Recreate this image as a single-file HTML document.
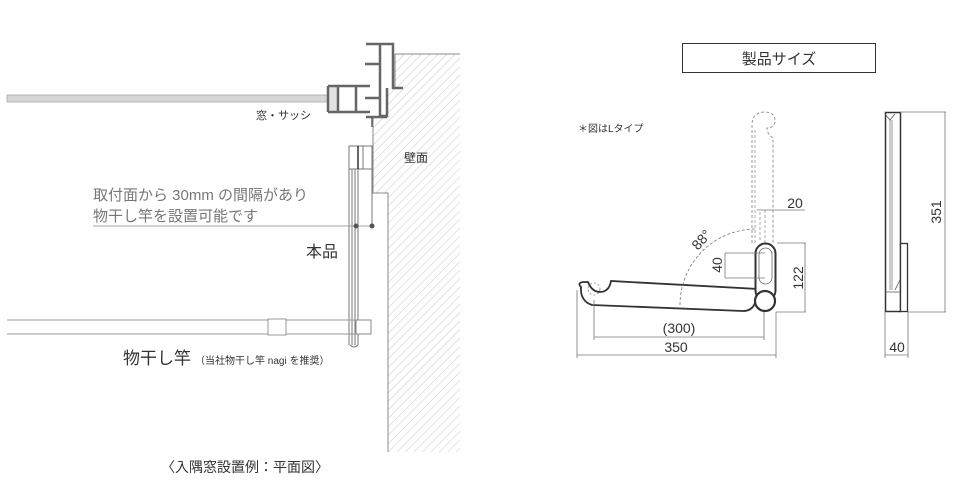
<!DOCTYPE html>
<html><head><meta charset="utf-8"><style>
html,body{margin:0;padding:0;background:#fff}
svg{display:block}
text{font-family:"Liberation Sans","Noto Sans CJK JP",sans-serif}
</style></head><body>
<svg width="960" height="493" viewBox="0 0 960 493" xmlns="http://www.w3.org/2000/svg">
<defs>
<pattern id="h" width="6" height="6" patternUnits="userSpaceOnUse" patternTransform="rotate(45)">
<line x1="0" y1="0" x2="0" y2="6" stroke="#bbb" stroke-width="0.8"/>
</pattern>
</defs>
<path d="M395,54 H460 V452 H388 V193 H373 V118 H387 V88 H395 Z" fill="url(#h)"/>
<path d="M395,54 H460 M395,54 V88 M373,118 V193 H388 V452" fill="none" stroke="#888" stroke-width="1"/>
<rect x="7" y="95" width="322" height="7" fill="#d6d6d6" stroke="#aaa" stroke-width="0.8"/>
<rect x="328" y="86" width="9" height="26" fill="#e2e2e2"/>
<g stroke="#666" stroke-width="2.5" fill="none">
<path d="M328,86 H370 M328,112 H370 M328,86 V112 M338,86 V112 M356,86 V112"/>
<path d="M366,44 H393 V88 H403 M380,44 V116 M387,88 V116 H380 M366,117 H387 M365,64 H380 M365,98 H380"/>
<path d="M372,117 V127" stroke-width="1.5"/>
</g>
<g stroke="#777" stroke-width="1" fill="#fff">
<rect x="349" y="146" width="23" height="23"/>
<line x1="358" y1="146" x2="358" y2="169" stroke="#333" stroke-width="1.5"/>
<line x1="363" y1="146" x2="363" y2="169"/>
<path d="M349,169 V345 M352,169 V345 M355,169 V345 M358,169 V345" fill="none"/>
<path d="M350,345 q4,4 8,0" fill="none"/>
<line x1="372" y1="169" x2="372" y2="226"/>
</g>
<line x1="93" y1="226" x2="372" y2="226" stroke="#888" stroke-width="0.8"/>
<circle cx="356" cy="226" r="2.5" fill="#555"/>
<circle cx="372" cy="226" r="2.5" fill="#555"/>
<g stroke="#999" stroke-width="1" fill="#fff">
<path d="M7,320 H356 M7,334 H356"/>
<rect x="268" y="319" width="18" height="16"/>
<rect x="356" y="320" width="15" height="14" stroke="#888"/>
</g>
<text x="256" y="119" font-size="11" fill="#333">窓・サッシ</text>
<text x="404" y="162" font-size="12" fill="#333">壁面</text>
<text x="93" y="200" font-size="15" fill="#777">取付面から 30mm の間隔があり</text>
<text x="93" y="221" font-size="15" fill="#777">物干し竿を設置可能です</text>
<text x="306" y="257" font-size="16" fill="#333">本品</text>
<text x="123" y="364" font-size="17" fill="#333">物干し竿<tspan font-size="10" dx="4">（当社物干し竿 nagi を推奨）</tspan></text>
<text x="245" y="472" font-size="14" fill="#333" text-anchor="middle">〈入隅窓設置例：平面図〉</text>
<rect x="682.5" y="43.5" width="193" height="29" fill="#fff" stroke="#333" stroke-width="1"/>
<text x="779" y="64" font-size="15" fill="#333" text-anchor="middle">製品サイズ</text>
<text x="578" y="132" font-size="10" fill="#333">＊図はLタイプ</text>
<path d="M752,243 V125 q0,-12 12,-13 q12,0 11,10 q-1,6 -8,6 q0,6 6,10 V243" fill="none" stroke="#999" stroke-width="1" stroke-dasharray="3,2"/>
<path d="M755,243 V130 M760,240 V210 M765,243 V210" stroke="#999" stroke-width="0.8" stroke-dasharray="3,2" fill="none"/>
<path d="M581,287 q-4,-4 2,-5 h5 q4,10 12,10 q9,0 11,-11 L758,289 L755,303 q-3,8 -12,8 L592,305 q-12,-4 -11,-18 Z" fill="#fff" stroke="#333" stroke-width="1.8"/>
<rect x="755.5" y="243.5" width="20" height="57" rx="10" fill="#fff" stroke="#333" stroke-width="2"/>
<rect x="759" y="248" width="13" height="36" rx="6.5" fill="none" stroke="#666" stroke-width="0.8"/>
<circle cx="765" cy="301" r="10" fill="#fff" stroke="#333" stroke-width="2.2"/>
<circle cx="594" cy="289" r="6" fill="none" stroke="#888" stroke-width="0.8" stroke-dasharray="2,2"/>
<g stroke="#777" stroke-width="0.8" fill="none">
<path d="M680,305 A76,76 0 0 1 756,229" stroke-dasharray="3,2"/>
<path d="M757,210 H805 M777,243 H806 M805,243 V312 M776,312 H806"/>
<path d="M725,253 H765 M725,278 H765 M725,253 V278"/>
<path d="M577,290 V358 M776,312 V358 M577,355 H776"/>
<path d="M594,300 V340 M764,312 V340 M594,337 H764"/>
</g>
<text x="795" y="208" font-size="14" fill="#333" text-anchor="middle">20</text>
<text transform="translate(803,278) rotate(-90)" font-size="14" fill="#333" text-anchor="middle">122</text>
<text transform="translate(722,265) rotate(-90)" font-size="14" fill="#333" text-anchor="middle">40</text>
<text transform="translate(705,243) rotate(-48)" font-size="14" fill="#333" text-anchor="middle">88°</text>
<text x="679" y="333" font-size="14" fill="#333" text-anchor="middle">(300)</text>
<text x="676" y="352" font-size="14" fill="#333" text-anchor="middle">350</text>
<rect x="885.5" y="112.5" width="15" height="199" fill="#fff" stroke="#333" stroke-width="1.5"/>
<rect x="889" y="120" width="4" height="170" fill="#ccc"/>
<path d="M885,114 l5,6 l5,-6 M885,292 H908 M900,280 l-5,10" stroke="#555" stroke-width="0.8" fill="none"/>
<rect x="900.5" y="243.5" width="7" height="68" fill="#fff" stroke="#333" stroke-width="1.3"/>
<g stroke="#777" stroke-width="0.8" fill="none">
<path d="M900,112 H946 M908,312 H946 M945,112 V312 M885,312 V358 M908,312 V358 M885,355 H908"/>
</g>
<text transform="translate(941,212) rotate(-90)" font-size="14" fill="#333" text-anchor="middle">351</text>
<text x="897" y="352" font-size="14" fill="#333" text-anchor="middle">40</text>
</svg>
</body></html>
